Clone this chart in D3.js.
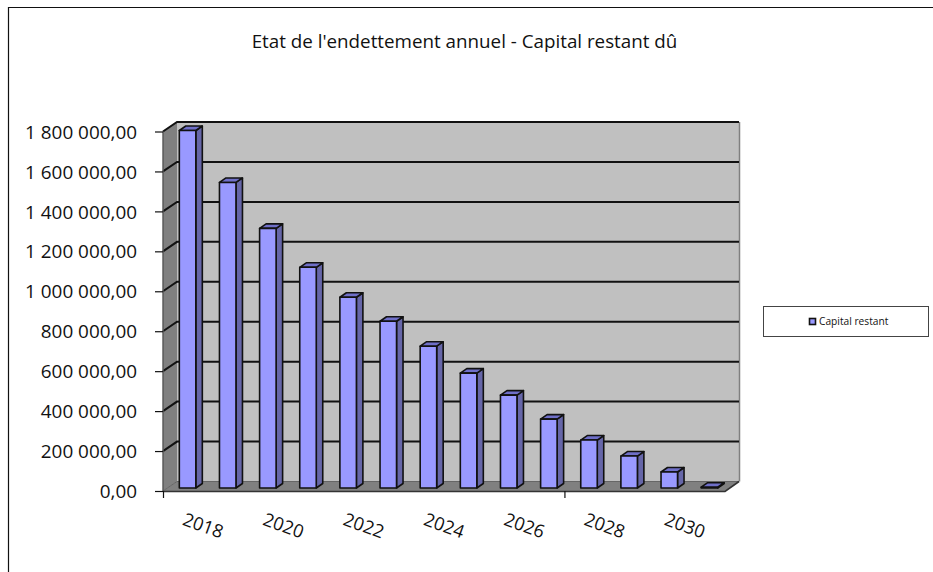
<!DOCTYPE html>
<html><head><meta charset="utf-8">
<script src="https://cdnjs.cloudflare.com/ajax/libs/d3/7.8.5/d3.min.js"></script>
<style>html,body{margin:0;background:#fff}svg{display:block}text{font-family:"Open Sans","Noto Sans",sans-serif;fill:#111}</style>
</head><body><svg id="c" width="933" height="572"></svg>
<script>
const years=[2018,2019,2020,2021,2022,2023,2024,2025,2026,2027,2028,2029,2030,2031];
const capital=[1790000,1530000,1300000,1105000,955000,835000,710000,575000,465000,345000,240000,160000,80000,4000];
const yTicks=[0,200000,400000,600000,800000,1000000,1200000,1400000,1600000,1800000];
const xLabels=[2018,2020,2022,2024,2026,2028,2030];
const title="Etat de l'endettement annuel - Capital restant dû";
const seriesName="Capital restant";

const svg=d3.select("#c");
const fr=d3.formatLocale({decimal:",",thousands:"\u00a0",grouping:[3],currency:["","€"]}).format(",.2f");
const x=d3.scaleBand().domain(years).range([163,725]);
const y=d3.scaleLinear().domain([0,1800000]).range([491,131.5]);
const D={dx:14,dy:-9.5};
const B={dx:6.5,dy:-4.5,w:16.5};
const x0=163,x1=723,y0=491,yT=y(1800000);

svg.append("path").attr("d","M8.5,572V7.5H933").attr("fill","none").attr("stroke","#111").attr("stroke-width",1.2);
svg.append("text").attr("x",464.5).attr("y",48).attr("text-anchor","middle").attr("font-size",18.8).text(title);

const poly=(pts,f,s)=>svg.append("polygon").attr("points",pts.map(p=>p.join(",")).join(" ")).attr("fill",f).attr("stroke",s||"none");
poly([[x0+D.dx,yT+D.dy],[x1+D.dx+2,yT+D.dy],[x1+D.dx+2,y0+D.dy],[x0+D.dx,y0+D.dy]],"#c0c0c0");
poly([[x0,y0],[x0+D.dx,y0+D.dy],[x0+D.dx,yT+D.dy],[x0,yT]],"#808080");
poly([[x0,y0],[x1+2,y0],[x1+D.dx+2,y0+D.dy],[x0+D.dx,y0+D.dy]],"#808080");
svg.append("line").attr("x1",x1+D.dx+2.5).attr("x2",x1+D.dx+2.5).attr("y1",yT+D.dy).attr("y2",y0+D.dy).attr("stroke","#808080").attr("stroke-width",1.5);

yTicks.forEach(t=>{
  svg.append("path").attr("fill","none")
    .attr("d",`M${x0},${y(t)}L${x0+D.dx},${y(t)+D.dy}H${x1+D.dx+2}`)
    .attr("stroke",t===0?"#666":"#111").attr("stroke-width",t===0?1:2);
});
svg.append("line").attr("x1",x0).attr("x2",x0).attr("y1",yT).attr("y2",y0).attr("stroke","#555").attr("stroke-width",1.4);
svg.append("path").attr("d",`M${x0},${y0+.5}H${x1+2}L${x1+D.dx+2},${y0+D.dy}`).attr("fill","none").attr("stroke","#333").attr("stroke-width",1.6);

const bars=svg.append("g").selectAll("g").data(years).join("g");
bars.each(function(yr,i){
  const g=d3.select(this), v=capital[i], l=x(yr)+x.bandwidth()/2-B.w/2+4.5, r=l+B.w, b=y(0)-3, t=b-(y(0)-y(v));
  const P=(pts,f)=>g.append("polygon").attr("points",pts.map(p=>p.join(",")).join(" ")).attr("fill",f).attr("stroke","#111").attr("stroke-width",1.6).attr("stroke-linejoin","round");
  P([[r,b],[r+B.dx,b+B.dy],[r+B.dx,t+B.dy],[r,t]],"#6666a8");
  P([[l,t],[l+B.dx,t+B.dy],[r+B.dx,t+B.dy],[r,t]],"#6f6fc8");
  P([[l,t],[r,t],[r,b],[l,b]],"#9999ff");
});

const yAxis=d3.axisLeft(y).tickValues(yTicks).tickFormat(fr).tickSize(8).tickPadding(18);
const ya=svg.append("g").attr("transform",`translate(${x0},0)`).call(yAxis);
ya.select(".domain").remove();
ya.selectAll("line").attr("stroke","#111").attr("stroke-width",1.2);
ya.selectAll("text").attr("font-size",18.9).attr("fill","#111").attr("font-family",'"Open Sans"').attr("dy","0.35em");

[years[0],years[10]].forEach(yr=>{
  svg.append("line").attr("x1",x(yr)+.5).attr("x2",x(yr)+.5).attr("y1",y0).attr("y2",y0+7).attr("stroke","#111").attr("stroke-width",1.2);
});
svg.append("g").selectAll("text").data(xLabels).join("text")
  .attr("transform",d=>`translate(${x(d)+x.bandwidth()/2+18},${531.5}) rotate(20)`)
  .attr("text-anchor","middle").attr("font-size",18.2).text(d=>d);

svg.append("rect").attr("x",763.5).attr("y",306.5).attr("width",165).attr("height",30).attr("fill","#fff").attr("stroke","#444");
svg.append("rect").attr("x",809.5).attr("y",318.5).attr("width",6).attr("height",6).attr("fill","#9999ff").attr("stroke","#111").attr("stroke-width",1.6);
svg.append("text").attr("x",819).attr("y",325).attr("font-size",10.2).text(seriesName);
</script></body></html>
